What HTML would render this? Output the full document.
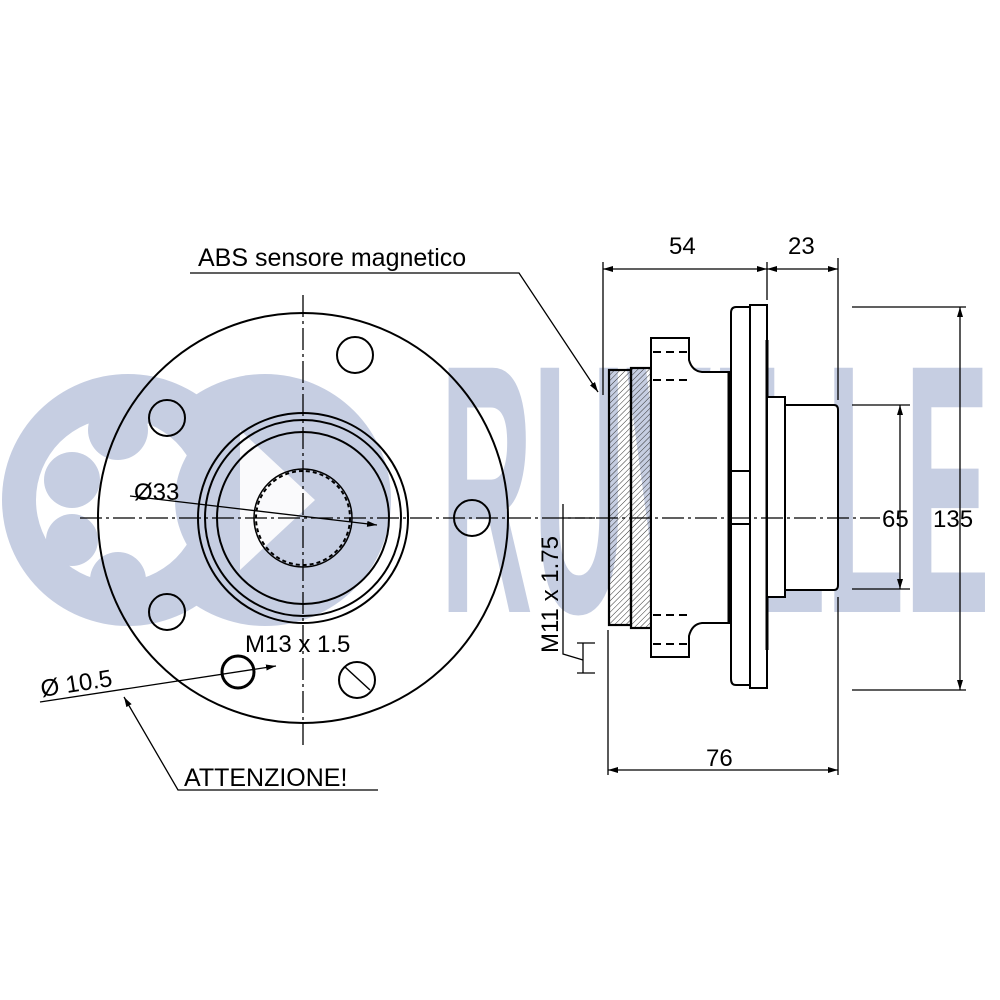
<!DOCTYPE html>
<html><head><meta charset="utf-8"><style>html,body{margin:0;padding:0;background:#fff}svg{display:block}</style></head>
<body>
<svg width="1000" height="1000" viewBox="0 0 1000 1000" xmlns="http://www.w3.org/2000/svg" font-family="Liberation Sans, Arial, sans-serif">
<defs>
<pattern id="h" width="4" height="4" patternUnits="userSpaceOnUse" patternTransform="rotate(45)"><line x1="0" y1="0" x2="0" y2="4" stroke="#333" stroke-width="1"/></pattern>
<marker id="a" markerWidth="10" markerHeight="6" refX="10" refY="3" orient="auto" markerUnits="userSpaceOnUse"><path d="M0,0 L10,3 L0,6z" fill="#000"/></marker>
</defs>
<!-- watermark -->
<g fill="#c6cee2">
<circle cx="128" cy="500" r="126"/>
<circle cx="265" cy="500" r="126"/>
</g>
<circle cx="118" cy="500" r="82" fill="#fff"/>
<g fill="#c6cee2">
<circle cx="118" cy="430" r="30"/><circle cx="72" cy="480" r="28"/><circle cx="72" cy="540" r="26"/><circle cx="118" cy="580" r="28"/>
<circle cx="265" cy="500" r="90"/>
</g>
<path d="M240,430 L315,500 L240,570 Z" fill="#fff" opacity="0.9"/>
<text x="440" y="612" font-size="355" font-weight="bold" fill="#c6cee2" textLength="550" lengthAdjust="spacingAndGlyphs">RUVILLE</text>

<g stroke="#000" fill="none" stroke-width="1.3">
<circle cx="303" cy="518" r="205" stroke-width="2"/>
<circle cx="355" cy="355" r="18" stroke-width="2"/>
<circle cx="167" cy="418" r="18" stroke-width="2"/>
<circle cx="167" cy="612" r="18" stroke-width="2"/>
<circle cx="472" cy="518" r="18" stroke-width="2"/>
<circle cx="357" cy="680" r="18" stroke-width="2"/>
<circle cx="238" cy="672" r="16" stroke-width="3"/>
<circle cx="303" cy="518" r="105" stroke-width="2"/>
<circle cx="303" cy="518" r="98" stroke-width="2"/>
<circle cx="303" cy="518" r="86" stroke-width="2"/>
<circle cx="303" cy="518" r="47" stroke-width="2" stroke-dasharray="4 3"/>
<circle cx="303" cy="518" r="49" stroke-width="1.5"/>
<line x1="303" y1="295" x2="303" y2="745" stroke-dasharray="22 4 3 4"/>
<line x1="80" y1="518" x2="595" y2="518" stroke-dasharray="22 4 3 4"/>
<line x1="130" y1="496" x2="377" y2="525" marker-end="url(#a)"/>
<line x1="345" y1="667" x2="370" y2="690" stroke-width="1.5"/>
<line x1="40" y1="702" x2="276" y2="666" marker-end="url(#a)"/>
<polyline points="190,273 519,273 598,392" marker-end="url(#a)"/>
<polyline points="378,790 178,790 124,697" marker-end="url(#a)"/>
<rect x="609" y="370" width="22" height="255" fill="url(#h)" stroke-width="2.2"/>
<rect x="631" y="368" width="20" height="260" fill="url(#h)" stroke-width="2.2"/>
<path d="M651,338 L689,338 L689,360 Q692,371 702,372 L729,372 L729,623 L702,623 Q692,624 689,636 L689,657 L651,657 Z" fill="#fff" stroke-width="2"/>
<g stroke-dasharray="8 5" stroke-width="2"><line x1="653" y1="352" x2="688" y2="352"/><line x1="653" y1="380" x2="688" y2="380"/><line x1="653" y1="615" x2="688" y2="615"/><line x1="653" y1="644" x2="688" y2="644"/></g>
<line x1="729" y1="372" x2="729" y2="623" stroke-width="3"/>
<path d="M750,307 L736,307 Q731,307 731,313 L731,679 Q731,685 736,685 L750,685 Z" fill="#fff" stroke-width="2"/>
<rect x="750" y="305" width="17" height="383" fill="#fff" stroke-width="2"/>
<line x1="767" y1="340" x2="767" y2="650" stroke-width="3"/>
<rect x="731" y="471" width="19" height="53" stroke-width="2"/>
<rect x="767" y="397" width="18" height="200" fill="#fff" stroke-width="2"/>
<path d="M785,405 L834,405 Q838,405 838,410 L838,585 Q838,590 834,590 L785,590 Z" fill="#fff" stroke-width="2"/>
<line x1="563" y1="518" x2="880" y2="518" stroke-dasharray="22 4 3 4"/>
<line x1="603" y1="262" x2="603" y2="395"/>
<line x1="608" y1="630" x2="608" y2="775"/>
<line x1="767" y1="262" x2="767" y2="300"/>
<line x1="838" y1="258" x2="838" y2="400"/>
<line x1="838" y1="597" x2="838" y2="775"/>
<line x1="690" y1="269" x2="603" y2="269" marker-end="url(#a)"/>
<line x1="690" y1="269" x2="767" y2="269" marker-end="url(#a)"/>
<line x1="800" y1="269" x2="767" y2="269" marker-end="url(#a)"/>
<line x1="800" y1="269" x2="838" y2="269" marker-end="url(#a)"/>
<line x1="720" y1="770" x2="608" y2="770" marker-end="url(#a)"/>
<line x1="720" y1="770" x2="838" y2="770" marker-end="url(#a)"/>
<line x1="852" y1="307" x2="966" y2="307"/>
<line x1="852" y1="690" x2="966" y2="690"/>
<line x1="852" y1="405" x2="910" y2="405"/>
<line x1="852" y1="589" x2="910" y2="589"/>
<line x1="960" y1="500" x2="960" y2="307" marker-end="url(#a)"/>
<line x1="960" y1="500" x2="960" y2="690" marker-end="url(#a)"/>
<line x1="900" y1="500" x2="900" y2="405" marker-end="url(#a)"/>
<line x1="900" y1="500" x2="900" y2="589" marker-end="url(#a)"/>
<polyline points="563,504 563,654 583,660"/>
<line x1="583" y1="643" x2="583" y2="673"/>
<line x1="577" y1="643" x2="595" y2="643"/><line x1="577" y1="673" x2="595" y2="673"/>
</g>
<g font-size="24" fill="#000">
<text x="198" y="266" font-size="25">ABS sensore magnetico</text>
<text x="134" y="500">Ø33</text>
<text x="245" y="652">M13 x 1.5</text>
<text x="42" y="697" transform="rotate(-9 42 697)">Ø 10.5</text>
<text x="184" y="786" font-size="25">ATTENZIONE!</text>
<text x="669" y="254">54</text>
<text x="788" y="254">23</text>
<text x="706" y="766">76</text>
<text x="882" y="527">65</text>
<text x="933" y="527">135</text>
<text x="558" y="653" transform="rotate(-90 558 653)">M11 x 1.75</text>
</g>
</svg>
</body></html>
